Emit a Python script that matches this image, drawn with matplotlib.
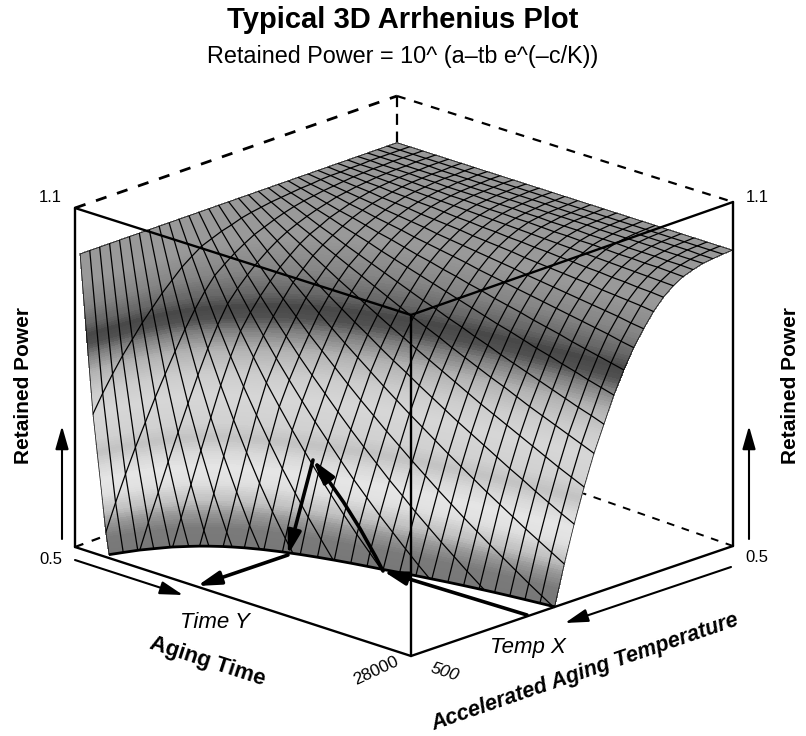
import numpy as np
import matplotlib
matplotlib.use("Agg")
from matplotlib import pyplot as plt
from matplotlib.colors import LinearSegmentedColormap
from matplotlib.patches import PathPatch

# box corners in picture pixels: floor and lid
floor_back, floor_left, floor_front, floor_right = (397, 428), (75, 547), (411, 656), (733, 546)
top_back, top_left, top_front, top_right = (397, 96), (75, 208), (411, 315), (733, 202)

power_min = 0.5
power_max = 1.1
time_ticks = ["28000"]
temp_ticks = ["500"]

# retained power read off the mesh, one row per temperature line (back wall to front),
# one column per time line. rows that stop early are under the floor and never seen
power_rows = [
    [1.016] * 27,
    [1.016] * 13 + [1.015] * 14,
    [1.016, 1.016, 1.016, 1.016, 1.016, 1.015, 1.015, 1.015, 1.015, 1.015, 1.015, 1.015, 1.015, 1.015,
     1.014, 1.014, 1.014, 1.014, 1.014, 1.014, 1.014, 1.014, 1.014, 1.014, 1.014, 1.013, 1.013],
    [1.016, 1.016, 1.016, 1.015, 1.015, 1.015, 1.015, 1.015, 1.014, 1.014, 1.014, 1.014, 1.014, 1.013,
     1.013, 1.013, 1.013, 1.013, 1.012, 1.012, 1.012, 1.012, 1.012, 1.011, 1.011, 1.011, 1.011],
    [1.016, 1.016, 1.015, 1.015, 1.015, 1.014, 1.014, 1.013, 1.013, 1.013, 1.012, 1.012, 1.012, 1.011,
     1.011, 1.010, 1.010, 1.010, 1.009, 1.009, 1.009, 1.008, 1.008, 1.008, 1.007, 1.007, 1.006],
    [1.016, 1.015, 1.015, 1.014, 1.014, 1.013, 1.012, 1.012, 1.011, 1.011, 1.010, 1.009, 1.009, 1.008,
     1.008, 1.007, 1.006, 1.006, 1.005, 1.005, 1.004, 1.003, 1.003, 1.002, 1.002, 1.001, 1.000],
    [1.016, 1.015, 1.014, 1.013, 1.012, 1.011, 1.010, 1.009, 1.008, 1.007, 1.006, 1.005, 1.004, 1.003,
     1.002, 1.001, 1.000, 0.999, 0.998, 0.997, 0.996, 0.995, 0.994, 0.993, 0.992, 0.991, 0.990],
    [1.016, 1.014, 1.013, 1.011, 1.010, 1.008, 1.007, 1.005, 1.004, 1.002, 1.000, 0.999, 0.997, 0.996,
     0.994, 0.993, 0.991, 0.990, 0.988, 0.987, 0.985, 0.984, 0.982, 0.981, 0.979, 0.978, 0.976],
    [1.016, 1.014, 1.011, 1.009, 1.007, 1.004, 1.002, 1.000, 0.997, 0.995, 0.993, 0.991, 0.988, 0.986,
     0.984, 0.982, 0.979, 0.977, 0.975, 0.973, 0.971, 0.969, 0.966, 0.964, 0.962, 0.960, 0.957],
    [1.016, 1.013, 1.009, 1.006, 1.003, 1.000, 0.996, 0.993, 0.990, 0.987, 0.983, 0.980, 0.977, 0.974,
     0.971, 0.968, 0.965, 0.961, 0.958, 0.955, 0.952, 0.949, 0.946, 0.943, 0.940, 0.936, 0.933],
    [1.016, 1.011, 1.007, 1.003, 0.998, 0.994, 0.989, 0.985, 0.981, 0.976, 0.972, 0.968, 0.964, 0.960,
     0.955, 0.951, 0.947, 0.943, 0.939, 0.935, 0.931, 0.927, 0.923, 0.919, 0.915, 0.910, 0.906],
    [1.016, 1.010, 1.004, 0.998, 0.992, 0.987, 0.981, 0.975, 0.970, 0.964, 0.958, 0.953, 0.947, 0.942,
     0.936, 0.931, 0.925, 0.920, 0.915, 0.909, 0.904, 0.899, 0.893, 0.888, 0.883, 0.878, 0.873],
    [1.016, 1.008, 1.001, 0.993, 0.986, 0.978, 0.971, 0.964, 0.956, 0.949, 0.942, 0.935, 0.928, 0.921,
     0.914, 0.907, 0.900, 0.893, 0.887, 0.880, 0.873, 0.867, 0.860, 0.854, 0.847, 0.841, 0.835],
    [1.016, 1.006, 0.997, 0.987, 0.977, 0.968, 0.958, 0.949, 0.940, 0.931, 0.922, 0.913, 0.904, 0.896,
     0.887, 0.879, 0.870, 0.862, 0.853, 0.845, 0.837, 0.829, 0.821, 0.813, 0.805, 0.798, 0.790],
    [1.016, 1.004, 0.992, 0.980, 0.969, 0.957, 0.946, 0.935, 0.924, 0.913, 0.902, 0.891, 0.880, 0.870,
     0.860, 0.849, 0.839, 0.829, 0.819, 0.810, 0.800, 0.790, 0.781, 0.772, 0.763, 0.754, 0.745],
    [1.016, 1.001, 0.986, 0.972, 0.958, 0.944, 0.930, 0.916, 0.903, 0.889, 0.876, 0.863, 0.851, 0.838,
     0.826, 0.814, 0.802, 0.790, 0.778, 0.767, 0.756, 0.745, 0.734, 0.723, 0.712, 0.702, 0.692],
    [1.016, 0.998, 0.979, 0.962, 0.944, 0.927, 0.911, 0.894, 0.878, 0.862, 0.847, 0.831, 0.816, 0.802,
     0.787, 0.773, 0.759, 0.745, 0.732, 0.719, 0.706, 0.693, 0.681, 0.668, 0.656, 0.644, 0.633],
    [1.016, 0.994, 0.972, 0.950, 0.929, 0.909, 0.889, 0.869, 0.850, 0.831, 0.813, 0.795, 0.777, 0.760,
     0.743, 0.727, 0.711, 0.695, 0.680, 0.665, 0.650, 0.636, 0.622, 0.608, 0.595, 0.582, 0.569],
    [1.016, 0.988, 0.962, 0.936, 0.910, 0.886, 0.862, 0.838, 0.816, 0.794, 0.772, 0.751, 0.731, 0.711,
     0.692, 0.673, 0.655, 0.637, 0.620, 0.603, 0.587, 0.571, 0.556, 0.541, 0.526, 0.512, 0.498],
    [1.016, 0.983, 0.951, 0.920, 0.890, 0.861, 0.833, 0.805, 0.779, 0.754, 0.729, 0.705, 0.682, 0.660,
     0.638, 0.618, 0.597, 0.578, 0.559, 0.541, 0.523, 0.506, 0.489, 0.473, 0.458, 0.443, 0.428],
    [1.016, 0.976, 0.938, 0.902, 0.867, 0.833, 0.800, 0.769, 0.739, 0.710, 0.683, 0.656, 0.630, 0.606,
     0.582, 0.560, 0.538, 0.517, 0.497, 0.477, 0.459, 0.441, 0.424, 0.407, 0.392, 0.376, 0.362],
    [1.016, 0.969, 0.924, 0.881, 0.840, 0.801, 0.763, 0.728, 0.694, 0.662, 0.631, 0.602, 0.574, 0.547,
     0.522, 0.497, 0.474, 0.452, 0.431, 0.411, 0.392, 0.374, 0.356],
    [1.016, 0.957, 0.902, 0.850, 0.801, 0.755, 0.712, 0.671, 0.632, 0.596, 0.561, 0.529, 0.498, 0.470,
     0.442, 0.417, 0.393, 0.370, 0.349, 0.329],
    [1.016, 0.944, 0.876, 0.814, 0.756, 0.702, 0.652, 0.605, 0.562, 0.522, 0.485, 0.450, 0.418, 0.388,
     0.361, 0.335, 0.311],
    [1.016, 0.927, 0.847, 0.773, 0.705, 0.644, 0.588, 0.536, 0.490, 0.447, 0.408, 0.372, 0.340, 0.310],
    [1.016, 0.910, 0.814, 0.729, 0.653, 0.584, 0.523, 0.468, 0.419, 0.375, 0.336],
    [1.016, 0.890, 0.780, 0.684, 0.599, 0.525, 0.460, 0.403, 0.353, 0.310],
    [1.016, 0.870, 0.745, 0.638, 0.546, 0.468, 0.401, 0.343],
    [1.016, 0.847, 0.707, 0.590, 0.492, 0.410, 0.342],
    [1.016, 0.824, 0.669, 0.543, 0.440, 0.357],
    [1.016, 0.798, 0.628, 0.493, 0.388, 0.305],
    [1.016, 0.770, 0.584, 0.442, 0.335],
    [1.016, 0.739, 0.537, 0.390],
]

# grey of the surface against height in the box (0 floor, 1 lid)
shade_height = [0, 0.05, 0.09, 0.12, 0.17, 0.21, 0.25, 0.29, 0.33, 0.40, 0.46, 0.52, 0.57, 0.60, 0.63, 0.66, 0.71, 0.78, 1]
shade_grey = [0.47, 0.48, 0.60, 0.75, 0.88, 0.90, 0.85, 0.76, 0.82, 0.84, 0.80, 0.70, 0.50, 0.32, 0.28, 0.40, 0.52, 0.60, 0.60]

n_cols = 27
power = np.array([r + [0.30] * (n_cols - len(r)) for r in power_rows])
height = (power - power_min) / (power_max - power_min)
time_frac = np.linspace(0, 1, n_cols)
temp_frac = np.linspace(0, 0.985, len(power_rows))


def project(b, a, h):
    # b runs along the right wall to the front, a along the left wall to the front
    x = []
    for k in range(2):
        f = (1 - a) * (1 - b) * floor_back[k] + (1 - a) * b * floor_left[k] + a * b * floor_front[k] + a * (1 - b) * floor_right[k]
        t = (1 - a) * (1 - b) * top_back[k] + (1 - a) * b * top_left[k] + a * b * top_front[k] + a * (1 - b) * top_right[k]
        x.append(f + h * (t - f))
    return x


fig = plt.figure(figsize=(8.06, 7.36), dpi=100)
ax = fig.add_axes([0, 0, 1, 1])
ax.set_xlim(0, 806)
ax.set_ylim(736, 0)
ax.axis("off")

plt.rcParams["font.family"] = ["Liberation Sans", "DejaVu Sans"]


def edge(p, q, **kw):
    ax.plot([p[0], q[0]], [p[1], q[1]], color="black", solid_capstyle="round", **kw)


# hidden edges first, the surface goes over them
edge(top_left, top_back, lw=2.0, ls=(0, (4, 4)), zorder=1)
edge(top_back, top_right, lw=1.6, ls=(0, (4, 4)), zorder=1)
edge(top_back, floor_back, lw=1.6, ls=(0, (5, 3)), zorder=1)
edge(floor_left, floor_back, lw=1.6, ls=(0, (4, 4)), zorder=1)
edge(floor_right, floor_back, lw=1.4, ls=(0, (4, 4)), zorder=1)

bb, aa = np.meshgrid(temp_frac, time_frac, indexing="ij")
X, Y = project(bb, aa, height)

cmap = LinearSegmentedColormap.from_list("bands", [(h, (g, g, g)) for h, g in zip(shade_height, shade_grey)])
levels = np.linspace(power_min, 1.02, 150)
ax.contourf(X, Y, power, levels=levels, cmap=cmap, vmin=power_min, vmax=power_max,
            antialiased=False, zorder=2)

# mesh lines stop where the surface goes through the floor
region = ax.contourf(X, Y, power, levels=[power_min, 1.2], colors="none", zorder=2)
clip = PathPatch(region.get_paths()[0], transform=ax.transData, fc="none", ec="none")
ax.add_patch(clip)
for i in range(X.shape[0]):
    ln, = ax.plot(X[i], Y[i], color="black", lw=0.9, zorder=3)
    ln.set_clip_path(clip)
for j in range(X.shape[1]):
    ln, = ax.plot(X[:, j], Y[:, j], color="black", lw=0.9, zorder=3)
    ln.set_clip_path(clip)
ax.contour(X, Y, power, levels=[power_min], colors="black", linewidths=2.0, zorder=4)

# visible box edges
for p, q in [(top_left, top_front), (top_front, top_right), (top_front, floor_front),
             (top_left, floor_left), (top_right, floor_right), (floor_left, floor_front), (floor_front, floor_right)]:
    edge(p, q, lw=1.7, zorder=5)


def arrow(p, q, lw, style="-|>,head_length=1.4,head_width=0.4", rad=0.0):
    ax.annotate("", xy=q, xytext=p, zorder=6,
                arrowprops=dict(arrowstyle=style, color="black", lw=lw, mutation_scale=10, shrinkA=0, shrinkB=0,
                                connectionstyle="arc3,rad=%.2f" % rad))


arrow((62, 539), (62, 426), 1.5)
arrow((749, 539), (749, 426), 1.5)
arrow((75, 560), (183, 595), 1.5)
arrow((731, 567), (565, 623), 1.5)
arrow((313, 460), (288, 555), 2.6)
arrow((288, 555), (197, 586), 2.6)
arrow((527, 615), (383, 571), 2.6)
arrow((383, 571), (313, 460), 2.6, rad=0.05)

ax.text(403, 20, "Typical 3D Arrhenius Plot", fontsize=21, fontweight="bold", ha="center", va="center")
ax.text(403, 57, "Retained Power = 10^ (a–tb e^(–c/K))", fontsize=16.8, ha="center", va="center")
ax.text(62, 198, "%.1f" % power_max, fontsize=12, ha="right", va="center")
ax.text(746, 198, "%.1f" % power_max, fontsize=12, ha="left", va="center")
ax.text(62, 559, "%.1f" % power_min, fontsize=12, ha="right", va="center")
ax.text(745, 558, "%.1f" % power_min, fontsize=12, ha="left", va="center")
ax.text(24, 385, "Retained Power", fontsize=15, fontweight="bold", rotation=90, ha="center", va="center")
ax.text(790, 385, "Retained Power", fontsize=15, fontweight="bold", rotation=90, ha="center", va="center")
ax.text(215, 622, "Time Y", fontsize=16, style="italic", ha="center", va="center")
ax.text(207, 662, "Aging Time", fontsize=16, fontweight="bold", rotation=-18, ha="center", va="center", rotation_mode="anchor")
ax.text(376, 671, time_ticks[0], fontsize=12.5, rotation=25, ha="center", va="center", rotation_mode="anchor")
ax.text(445, 672, temp_ticks[0], fontsize=12.5, style="italic", rotation=-18, ha="center", va="center", rotation_mode="anchor")
ax.text(528, 648, "Temp X", fontsize=16, style="italic", ha="center", va="center")
ax.text(585, 672, "Accelerated Aging Temperature", fontsize=15.5, fontweight="bold", style="italic", rotation=19,
        ha="center", va="center", rotation_mode="anchor")

fig.savefig("out.png", dpi=100)
